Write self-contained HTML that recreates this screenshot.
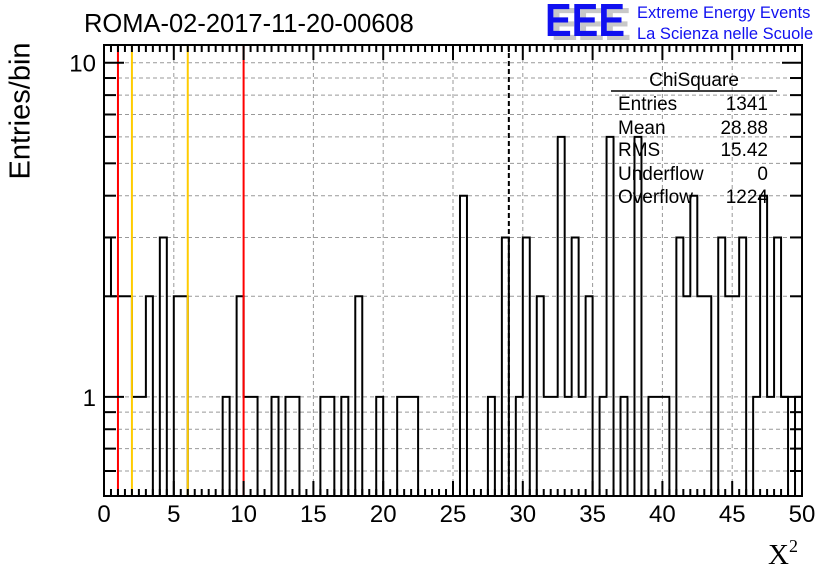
<!DOCTYPE html>
<html><head><meta charset="utf-8"><style>
html,body{margin:0;padding:0;background:#fff;}
svg{display:block;font-family:"Liberation Sans",sans-serif;}
</style></head><body>
<svg id="c" width="836" height="572" viewBox="0 0 836 572" xmlns="http://www.w3.org/2000/svg">
<rect x="0" y="0" width="836" height="572" fill="#fff"/>
<text x="84" y="32" font-size="25.5" fill="#000">ROMA-02-2017-11-20-00608</text>
<g>
<text x="551" y="40" font-size="46" font-weight="bold" fill="#c8c8c8" textLength="80" lengthAdjust="spacingAndGlyphs">EEE</text>
<text x="545" y="36" font-size="46" font-weight="bold" fill="#1010f0" textLength="80" lengthAdjust="spacingAndGlyphs">EEE</text>
<text x="637" y="18" font-size="16.5" fill="#1010f0">Extreme Energy Events</text>
<text x="637" y="39" font-size="16.5" fill="#1010f0">La Scienza nelle Scuole</text>
</g>
<g id="grid"></g>
<g id="hist"></g>
<g id="vlines"></g>
<g id="axes"></g>
<g font-size="19">
<text x="694" y="86" text-anchor="middle">ChiSquare</text>
<line x1="611" y1="91" x2="777" y2="91" stroke="#000" stroke-width="1.5"/>
<text x="618" y="110">Entries</text><text x="768" y="110" text-anchor="end">1341</text>
<text x="618" y="134">Mean</text><text x="768" y="134" text-anchor="end">28.88</text>
<text x="618" y="156">RMS</text><text x="768" y="156" text-anchor="end">15.42</text>
<text x="618" y="180">Underflow</text><text x="768" y="180" text-anchor="end">0</text>
<text x="618" y="203">Overflow</text><text x="768" y="203" text-anchor="end">1224</text>
</g>
<text x="22" y="111" font-size="29" text-anchor="middle" transform="rotate(-90 22 111)" dominant-baseline="middle">Entries/bin</text>
<text x="768" y="564" font-size="29" font-family="Liberation Serif,serif">X<tspan font-size="18" dy="-12">2</tspan></text>
</svg>
<script>
const binWidth = 0.5;
const counts = [3,2,2,2,1,1,2,0,3,0, 2,2,0,0,0,0,0,1,0,2, 1,1,0,0,1,0,1,1,0,0, 0,1,1,0,1,0,2,0,0,1, 0,0,1,1,1,0,0,0,0,0, 0,4,0,0,0,1,0,3,0,1, 3,0,2,1,1,6,1,3,1,2, 0,1,6,0,1,0,6,0,1,1, 1,0,3,2,4,2,2,0,3,2, 2,3,0,1,4,1,3,1,0,1];
const xTickLabels = [0,5,10,15,20,25,30,35,40,45,50];
const yTickLabels = [1,10];
const redLines = [1,10];
const yellowLines = [2,6];
const meanLine = 29;

const L=104,R=802,T=45,B=496,XMIN=0,XMAX=50,YMIN=0.505,YMAX=11.3;
const NS='http://www.w3.org/2000/svg';
function xs(v){return L+(v-XMIN)/(XMAX-XMIN)*(R-L);}
function ys(v){if(v<=YMIN)return B;return B-(Math.log10(v)-Math.log10(YMIN))/(Math.log10(YMAX)-Math.log10(YMIN))*(B-T);}
function mk(tag,attrs,parent){const e=document.createElementNS(NS,tag);for(const k in attrs)e.setAttribute(k,attrs[k]);parent.appendChild(e);return e;}

const grid=document.getElementById('grid');
for(const v of xTickLabels){if(v===XMIN||v===XMAX)continue;
 const g=mk('line',{x1:xs(v),x2:xs(v),y1:T,y2:B,stroke:'#999','stroke-dasharray':'4,3','stroke-width':1},grid);
 
 }
const yGridVals=[0.6,0.7,0.8,0.9,1,2,3,4,5,6,7,8,9,10];
for(const v of yGridVals){
 const g=mk('line',{x1:L,x2:R,y1:ys(v),y2:ys(v),stroke:'#999','stroke-dasharray':'4,3','stroke-width':1},grid);
 
 }

const hist=document.getElementById('hist');
let d='M'+xs(0)+','+B;
for(let i=0;i<counts.length;i++){
 const x0=xs(i*binWidth),x1=xs((i+1)*binWidth),y=ys(counts[i]);
 d+=' L'+x0+','+y+' L'+x1+','+y;
}
d+=' L'+xs(counts.length*binWidth)+','+B;
const hp=mk('path',{d:d,fill:'none',stroke:'#000','stroke-width':2},hist);



const vl=document.getElementById('vlines');
for(const v of redLines){const l=mk('line',{x1:xs(v),x2:xs(v),y1:T,y2:B,stroke:'#ff0000','stroke-width':2},vl);
 
 }
for(const v of yellowLines){const l=mk('line',{x1:xs(v),x2:xs(v),y1:T,y2:B,stroke:'#ffcc00','stroke-width':2},vl);
 
 }
const ml=mk('line',{x1:xs(meanLine),x2:xs(meanLine),y1:T,y2:B,stroke:'#000','stroke-width':2,'stroke-dasharray':'5,3'},vl);



const ax=document.getElementById('axes');
const fr=mk('rect',{x:L,y:T,width:R-L,height:B-T,fill:'none',stroke:'#000','stroke-width':2},ax);


for(let v=0;v<=50.001;v+=0.5){
 const major=Math.abs(v%5)<1e-6, len=major?15:7, x=xs(v);
 mk('line',{x1:x,x2:x,y1:B,y2:B-len,stroke:'#000','stroke-width':2},ax);
 mk('line',{x1:x,x2:x,y1:T,y2:T+len,stroke:'#000','stroke-width':2},ax);
}
for(const v of xTickLabels){const t=mk('text',{x:xs(v),y:522,'font-size':24,'text-anchor':'middle'},ax);t.textContent=v;
 
 }
for(const v of yGridVals){const major=(v===1||v===10),len=major?20:12,y=ys(v);
 mk('line',{x1:L,x2:L+len,y1:y,y2:y,stroke:'#000','stroke-width':2},ax);
 mk('line',{x1:R,x2:R-len,y1:y,y2:y,stroke:'#000','stroke-width':2},ax);}
for(const v of yTickLabels){const t=mk('text',{x:96,y:ys(v)+9,'font-size':24,'text-anchor':'end'},ax);t.textContent=v;
 
 }
</script>
</body></html>
